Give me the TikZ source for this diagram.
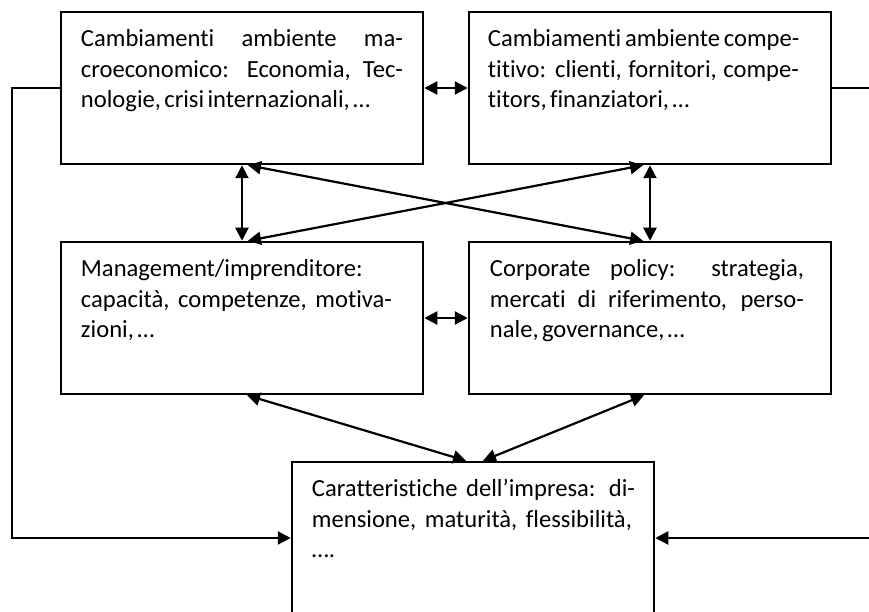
\documentclass[tikz,border=0pt]{standalone}
\usepackage{fontspec}
\setmainfont{Carlito}[Ligatures=NoCommon]
\usetikzlibrary{arrows.meta}

% riga giustificata a larghezza fissa
\newcommand{\riga}[2]{{\spaceskip=0pt\xspaceskip=0pt\makebox[#1][s]{#2}}}
% blocco di testo dentro un riquadro
\newcommand{\blocco}[1]{\fontsize{24.6}{30.5}\selectfont\noindent\strut#1\par}

\begin{document}
\begin{tikzpicture}[x=1pt,y=-1pt,
  box/.style={draw, line width=2.5pt, minimum width=362pt, minimum height=152pt, inner sep=0pt},
  testo/.style={anchor=north west, inner sep=0pt, text width=340pt},
  punta/.tip={Triangle[length=13pt,width=13pt]},
  doppia/.style={line width=2.2pt, punta-punta},
  freccia/.style={line width=2.2pt, -punta}]

\useasboundingbox (0,0) rectangle (869,612);

% Riquadri
\node[box] (macro) at (242,88) {};
\node[box] (comp) at (650,88) {};
\node[box] (manag) at (242,318) {};
\node[box] (policy) at (650,318) {};
\node[box] (impresa) at (473,538) {};

% Testi
\node[testo] (tmacro) at ([xshift=21pt,yshift=-14.6pt]macro.north west)
  {\blocco{\riga{322pt}{Cambiamenti ambiente ma-}\newline
   \riga{322pt}{croeconomico: Economia, Tec-}\newline
   nologie, crisi internazionali, …}};
\node[testo] (tcomp) at ([xshift=20pt,yshift=-14.6pt]comp.north west)
  {\blocco{\riga{311pt}{Cambiamenti ambiente compe-}\newline
   \riga{311pt}{titivo: clienti, fornitori, compe-}\newline
   titors, finanziatori, …}};
\node[testo] (tmanag) at ([xshift=21pt,yshift=-14.6pt]manag.north west)
  {\blocco{Management/imprenditore:\newline
   \riga{311pt}{capacità, competenze, motiva-}\newline
   zioni, …}};
\node[testo] (tpolicy) at ([xshift=22pt,yshift=-14.6pt]policy.north west)
  {\blocco{\riga{314pt}{Corporate policy: strategia,}\newline
   \riga{314pt}{mercati di riferimento, perso-}\newline
   nale, governance, …}};
\node[testo] (timpresa) at ([xshift=21pt,yshift=-14.6pt]impresa.north west)
  {\blocco{\riga{323pt}{Caratteristiche dell’impresa: di-}\newline
   \riga{320pt}{mensione, maturità, flessibilità,}\newline
   ….}};

% Frecce tra i riquadri
\draw[doppia] (macro.east) -- (comp.west);
\draw[doppia] (manag.east) -- (policy.west);
\draw[doppia] (macro.south) -- (manag.north);
\draw[doppia] (comp.south) -- (policy.north);
\draw[doppia] ([xshift=6pt]macro.south) -- ([xshift=-7pt]policy.north);
\draw[doppia] ([xshift=-7pt]comp.south) -- ([xshift=6pt]manag.north);
\draw[doppia] ([xshift=5pt]manag.south) -- ([xshift=-7pt]impresa.north);
\draw[doppia] ([xshift=-6pt]policy.south) -- ([xshift=10pt]impresa.north);

% Collegamenti esterni
\coordinate (sx) at (12,0);
\coordinate (dx) at (875,0);
\draw[freccia] (macro.west) -- (sx |- macro.west) -- (sx |- impresa.west) -- (impresa.west);
\draw[freccia] (comp.east) -- (dx |- comp.east) -- (dx |- impresa.east) -- (impresa.east);

\end{tikzpicture}
\end{document}
